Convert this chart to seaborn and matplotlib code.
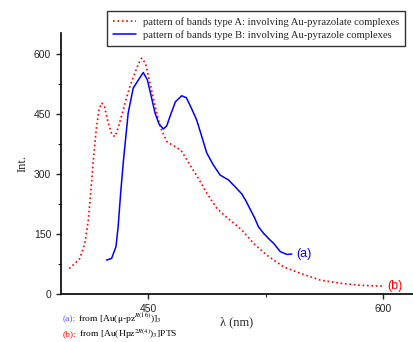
import matplotlib
matplotlib.use("Agg")
import matplotlib.pyplot as plt
import seaborn as sns

# band type B, curve (a)
wl_a = [423.6, 426.8, 429.6, 431.0, 432.6, 434.3, 437.4, 440.6, 444.0, 447.0,
        449.6, 452.0, 454.5, 457.0, 459.8, 462.0, 464.0, 467.5, 471.5, 474.5,
        477.9, 481.0, 484.3, 487.5, 491.7, 496.0, 501.3, 505.5, 509.8, 512.5,
        515.1, 518.0, 520.4, 523.6, 527.0, 530.0, 534.3, 538.5, 541.7]
int_a = [85, 89, 118, 168, 252, 330, 452, 514, 535, 553,
         535, 495, 452, 425, 412, 420, 443, 480, 495, 490,
         462, 435, 393, 352, 322, 297, 285, 268, 250, 232,
         212, 190, 168, 152, 138, 127, 106, 99, 100]

# band type A, curve (b)
wl_b = [399.8, 403.0, 406.6, 409.8, 412.0, 413.5, 415.1, 417.0, 418.8, 420.5,
        422.3, 424.5, 427.0, 429.0, 431.0, 434.3, 436.5, 438.5, 441.5, 444.0,
        446.0, 448.5, 451.3, 454.5, 457.7, 462.0, 465.0, 468.3, 471.5, 476.8,
        482.1, 487.5, 493.9, 500.0, 505.0, 509.8, 517.2, 525.8, 536.4, 547.0,
        559.8, 572.5, 585.3, 599.2]
int_b = [64, 75, 89, 127, 185, 252, 330, 410, 460, 477,
         468, 430, 398, 393, 415, 460, 492, 518, 550, 575,
         589, 575, 527, 470, 418, 381, 373, 366, 356, 322,
         289, 252, 214, 192, 176, 160, 127, 97, 68, 52,
         35, 27, 22, 20]

label_a = "pattern of bands type A: involving Au-pyrazolate complexes"
label_b = "pattern of bands type B: involving Au-pyrazole complexes"

sns.set_style("ticks")
plt.rcParams["font.family"] = ["Liberation Sans", "DejaVu Sans"]
plt.rcParams["mathtext.fontset"] = "stix"
serif = ["Liberation Serif", "DejaVu Serif"]

fig = plt.figure(figsize=(4.14, 3.42), dpi=100)
ax = fig.add_axes([0.147, 0.140, 0.851, 0.764])

sns.lineplot(x=wl_b, y=int_b, ax=ax, color="red", linestyle=":", linewidth=1.2,
             label=label_a)
sns.lineplot(x=wl_a, y=int_a, ax=ax, color="blue", linewidth=1.1,
             label=label_b)

ax.set_xlim(394.5, 619)
ax.set_ylim(0, 652)
ax.set_xticks([450, 600])
ax.set_xticks([525], minor=True)
ax.set_yticks([0, 150, 300, 450, 600])
ax.set_yticks([75, 225, 375, 525], minor=True)
ax.tick_params(which="major", direction="out", length=3.5, width=1, labelsize=7.5)
ax.tick_params(which="minor", direction="out", length=2, width=0.8)
for s in ["top", "right"]:
    ax.spines[s].set_visible(False)
for s in ["left", "bottom"]:
    ax.spines[s].set_linewidth(1.2)
    ax.spines[s].set_color("black")

ax.set_xlabel("λ (nm)", family=serif, fontsize=9, labelpad=2)
ax.set_ylabel("Int.", family=serif, fontsize=9)

ax.text(541.7 + 3, 100, "(a)", color="blue", fontsize=9, va="center", ha="left")
ax.text(599.2 + 3, 20, "(b)", color="red", fontsize=9, va="center", ha="left")

handles, labels = ax.get_legend_handles_labels()
ax.get_legend().remove()
leg = fig.legend(handles, labels, loc="upper right", bbox_to_anchor=(0.978, 0.968),
                 prop={"family": serif, "size": 7.7}, frameon=True, fancybox=False,
                 handlelength=2.2, borderpad=0.55, labelspacing=0.35,
                 handletextpad=0.6, borderaxespad=0)
leg.get_frame().set_edgecolor("black")
leg.get_frame().set_linewidth(1.0)

fs = 6.8
t1 = fig.text(0.152, 0.066, "(a):", color="#5555ff", fontsize=fs, family=serif, va="center")
ax.annotate(" from [Au(μ-pz$^{R(16)}$)]$_3$", xy=(1, 0.5), xycoords=t1, va="center",
            fontsize=fs, family=serif, color="black", annotation_clip=False)
t2 = fig.text(0.152, 0.022, "(b):", color="red", fontsize=fs, family=serif, va="center")
ax.annotate(" from [Au(Hpz$^{2R(4)}$)$_3$]PTS", xy=(1, 0.5), xycoords=t2, va="center",
            fontsize=fs, family=serif, color="black", annotation_clip=False)

fig.savefig("out.png", dpi=100)
